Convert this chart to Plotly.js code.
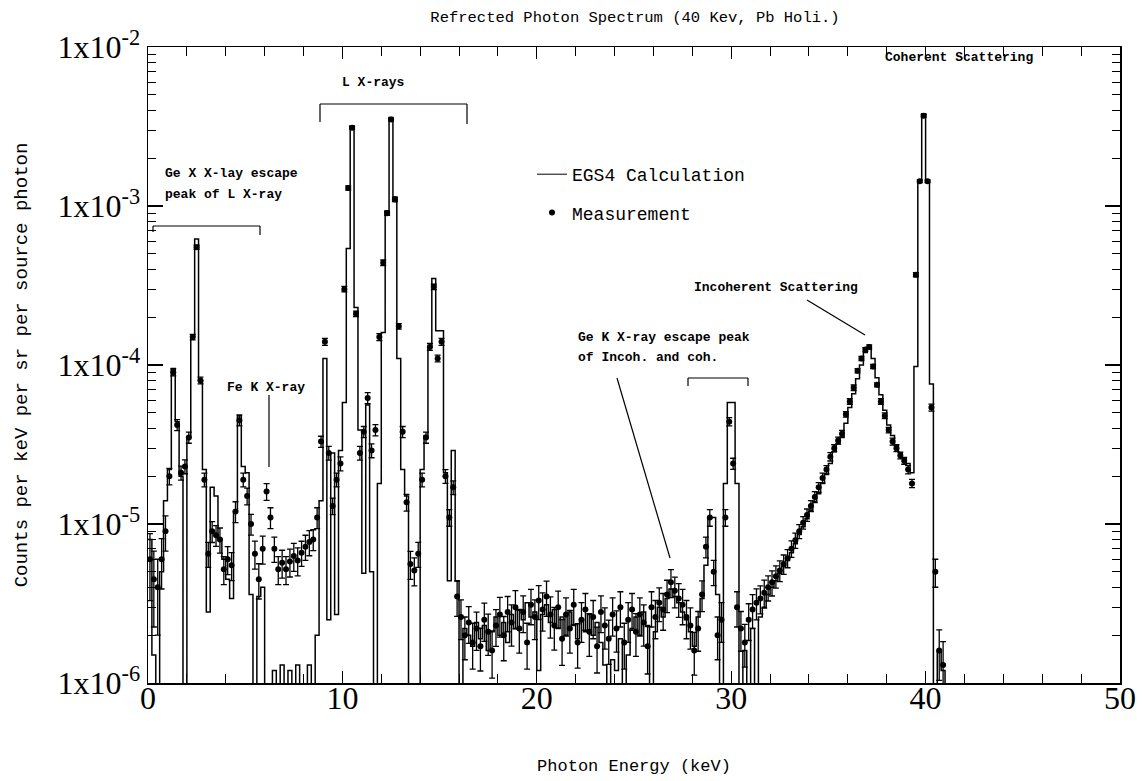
<!DOCTYPE html>
<html>
<head>
<meta charset="utf-8">
<script src="https://cdn.plot.ly/plotly-3.0.1.min.js"></script>
<style>
  html, body { margin: 0; padding: 0; background: #fff; }
  #chart { width: 1143px; height: 781px; }
</style>
</head>
<body>
<div id="chart"></div>
<script>
// ---------------- data ----------------
// EGS4 histogram: bin width 0.2 keV, first bin starts at 0 keV
const egsBinWidth = 0.2;
const egsValues = [
  8e-6, 1.5e-6, 7e-7, 5e-6, 1.4e-5,
  2.2e-5, 9.5e-5, 4.4e-5, 2.0e-5, 7e-7,
  3.5e-5, 1.5e-4, 6.2e-4, 8.0e-5, 2.2e-5,
  2.8e-6, 1.7e-5, 1.5e-5, 8e-6, 6e-6,
  4.5e-6, 3.4e-6, 1.2e-5, 4.8e-5, 2.3e-5,
  2.1e-5, 3.6e-6, 7e-7, 3.5e-6, 4.0e-6,
  7e-7, 7e-7, 1.2e-6, 7e-7, 1.3e-6,
  7e-7, 1.2e-6, 7e-7, 1.3e-6, 7e-7,
  7e-7, 1.3e-6, 7e-7, 2.0e-6, 1.4e-5,
  1.1e-4, 2.5e-6, 2.8e-5, 2.7e-6, 2.9e-5,
  5.8e-5, 5.4e-4, 3.2e-3, 2.3e-4, 3.9e-5,
  4.9e-6, 5.6e-5, 5.0e-6, 7e-7, 1.8e-5,
  1.6e-4, 9.3e-4, 3.6e-3, 1.14e-3, 1.1e-4,
  2.2e-5, 1.5e-5, 7e-7, 7e-7, 7e-7,
  2.2e-5, 3.6e-5, 1.3e-4, 3.5e-4, 1.64e-4,
  1.64e-4, 2.1e-5, 4.4e-6, 2.9e-5, 4.4e-6,
  7e-7, 2.2e-6, 2.0e-6, 1.7e-6, 2.4e-6,
  1.9e-6, 2.3e-6, 1.6e-6, 2.1e-6, 2.6e-6,
  2.0e-6, 2.4e-6, 1.8e-6, 2.7e-6, 2.2e-6,
  2.9e-6, 2.5e-6, 3.2e-6, 2.6e-6, 2.8e-6,
  1.2e-6, 2.7e-6, 3.1e-6, 2.4e-6, 2.9e-6,
  2.2e-6, 2.6e-6, 2.0e-6, 2.8e-6, 2.3e-6,
  1.9e-6, 2.5e-6, 2.1e-6, 2.7e-6, 2.0e-6,
  2.4e-6, 1.8e-6, 1.3e-6, 7e-7, 1.4e-6,
  1.2e-6, 1.9e-6, 7e-7, 1.5e-6, 2.2e-6,
  2.6e-6, 2.0e-6, 2.8e-6, 2.3e-6, 7e-7,
  2.1e-6, 3.0e-6, 2.6e-6, 3.4e-6, 3.9e-6,
  3.5e-6, 3.2e-6, 2.8e-6, 2.5e-6, 2.1e-6,
  1.7e-6, 2.6e-6, 3.4e-6, 5.5e-6, 1.1e-5,
  1.1e-5, 3.6e-6, 7e-7, 1.8e-5, 5.8e-5,
  5.8e-5, 1.8e-5, 7e-7, 1.6e-6, 7e-7,
  2.2e-6, 7e-7, 2.6e-6, 3.0e-6, 3.6e-6,
  4.0e-6, 4.4e-6, 4.9e-6, 5.4e-6, 5.9e-6,
  6.6e-6, 7.5e-6, 8.6e-6, 9.6e-6, 1.08e-5,
  1.22e-5, 1.38e-5, 1.55e-5, 1.8e-5, 2.05e-5,
  2.4e-5, 2.85e-5, 3.2e-5, 3.5e-5, 4.3e-5,
  5.4e-5, 6.6e-5, 8.2e-5, 1.0e-4, 1.2e-4,
  1.3e-4, 1.1e-4, 8.3e-5, 6.5e-5, 5.2e-5,
  4.2e-5, 3.6e-5, 3.1e-5, 2.8e-5, 2.6e-5,
  2.4e-5, 2.1e-5, 9.8e-5, 1.45e-3, 3.8e-3,
  1.45e-3, 7.6e-5, 7e-7, 1.6e-6, 1.2e-6,
  7e-7
];

// Measurement: points every 0.2 keV, first point at 0.1 keV
const measStart = 0.1;
const measStep = 0.2;
const measValues = [
  6.0e-6, 4.5e-6, 4.0e-6, 6.0e-6, 9.0e-6,
  2.0e-5, 9.0e-5, 4.2e-5, 2.1e-5, 2.3e-5,
  3.5e-5, 1.5e-4, 5.5e-4, 8.0e-5, 1.9e-5,
  6.5e-6, 9.0e-6, 8.5e-6, 8.0e-6, 5.2e-6,
  6.0e-6, 5.5e-6, 1.2e-5, 4.5e-5, 1.9e-5,
  1.5e-5, 1.0e-5, 6.5e-6, 4.5e-6, 7.0e-6,
  1.6e-5, 1.1e-5, 7.0e-6, 5.2e-6, 5.7e-6,
  5.2e-6, 5.8e-6, 6.3e-6, 5.9e-6, 6.6e-6,
  7.2e-6, 7.7e-6, 8.0e-6, 1.1e-5, 3.3e-5,
  1.4e-4, 2.8e-5, 1.3e-5, 1.9e-5, 2.4e-5,
  3.0e-4, 1.3e-3, 3.1e-3, 2.1e-4, 2.8e-5,
  3.8e-5, 6.2e-5, 2.9e-5, 3.9e-5, 1.5e-4,
  4.4e-4, 9.0e-4, 3.5e-3, 1.1e-3, 1.75e-4,
  3.8e-5, 1.37e-5, 5.6e-6, 5.1e-6, 6.5e-6,
  1.9e-5, 3.5e-5, 1.3e-4, 3.1e-4, 1.1e-4,
  1.4e-4, 2.0e-5, 1.1e-5, 1.7e-5, 3.5e-6,
  2.6e-6, 2.0e-6, 2.4e-6, 1.8e-6, 2.2e-6,
  1.7e-6, 2.5e-6, 2.1e-6, 1.6e-6, 2.3e-6,
  2.7e-6, 2.0e-6, 2.8e-6, 2.4e-6, 3.0e-6,
  2.2e-6, 2.8e-6, 1.8e-6, 3.1e-6, 2.6e-6,
  3.3e-6, 2.9e-6, 3.5e-6, 2.7e-6, 2.3e-6,
  3.0e-6, 1.9e-6, 2.7e-6, 2.2e-6, 3.1e-6,
  1.8e-6, 2.5e-6, 2.9e-6, 2.1e-6, 2.6e-6,
  1.7e-6, 2.8e-6, 2.3e-6, 1.9e-6, 2.7e-6,
  2.2e-6, 3.0e-6, 1.8e-6, 2.5e-6, 2.9e-6,
  2.1e-6, 2.7e-6, 2.4e-6, 1.7e-6, 3.0e-6,
  2.6e-6, 3.2e-6, 2.9e-6, 3.6e-6, 4.3e-6,
  3.8e-6, 3.4e-6, 3.1e-6, 2.6e-6, 2.3e-6,
  1.6e-6, 2.2e-6, 3.6e-6, 7.2e-6, 1.1e-5,
  5.0e-6, 2.0e-6, 2.5e-6, 1.1e-5, 4.4e-5,
  2.4e-5, 3.0e-6, 2.2e-6, 1.8e-6, 2.5e-6,
  2.9e-6, 3.2e-6, 3.4e-6, 3.7e-6, 4.0e-6,
  4.3e-6, 4.7e-6, 5.1e-6, 5.6e-6, 6.1e-6,
  7.0e-6, 7.9e-6, 9.0e-6, 1.02e-5, 1.14e-5,
  1.3e-5, 1.48e-5, 1.7e-5, 1.95e-5, 2.2e-5,
  2.65e-5, 3.0e-5, 3.35e-5, 3.7e-5, 4.9e-5,
  5.9e-5, 7.2e-5, 9.2e-5, 1.1e-4, 1.25e-4,
  1.3e-4, 9.8e-5, 7.5e-5, 5.9e-5, 4.8e-5,
  3.9e-5, 3.3e-5, 3.0e-5, 2.7e-5, 2.5e-5,
  2.2e-5, 1.8e-5, 3.7e-4, 1.43e-3, 3.7e-3,
  1.43e-3, 5.4e-5, 5.0e-6, 1.6e-6, 1.3e-6
];
// relative error of each measurement, in percent
const measErrPct = [
  45, 50, 50, 35, 25,
  12, 5, 8, 10, 10,
  8, 4, 3, 5, 10,
  18, 15, 15, 18, 20,
  20, 20, 15, 8, 10,
  12, 15, 20, 25, 20,
  12, 15, 18, 20, 20,
  20, 20, 20, 20, 18,
  18, 18, 15, 15, 8,
  5, 10, 12, 10, 10,
  4, 3, 2, 4, 10,
  8, 8, 10, 8, 5,
  4, 3, 2, 3, 4,
  8, 12, 20, 20, 18,
  10, 8, 5, 4, 5,
  5, 10, 12, 10, 25,
  28, 30, 26, 32, 27,
  30, 27, 29, 33, 26,
  28, 31, 25, 29, 27,
  30, 26, 32, 25, 28,
  24, 27, 25, 29, 30,
  26, 32, 27, 30, 25,
  31, 28, 26, 30, 27,
  32, 26, 29, 31, 27,
  29, 25, 32, 28, 26,
  30, 27, 29, 33, 25,
  27, 24, 26, 23, 20,
  22, 24, 25, 27, 29,
  30, 28, 22, 15, 12,
  18, 30, 28, 12, 6,
  8, 25, 28, 30, 26,
  24, 22, 20, 20, 18,
  18, 16, 15, 14, 13,
  12, 11, 10, 9, 9,
  8, 8, 7, 7, 6,
  6, 5, 5, 5, 4,
  4, 4, 3, 3, 3,
  3, 3, 3, 4, 4,
  4, 5, 5, 5, 5,
  6, 6, 3, 2, 2,
  2, 5, 20, 35, 40
];

const xTickVals = [0, 10, 20, 30, 40, 50];
const yDecades = [1e-6, 1e-5, 1e-4, 1e-3, 1e-2];
const yTickText = ['1x10<sup>-6</sup>', '1x10<sup>-5</sup>', '1x10<sup>-4</sup>', '1x10<sup>-3</sup>', '1x10<sup>-2</sup>'];

// ---------------- build traces ----------------
const egsX = egsValues.map((v, i) => +(i * egsBinWidth).toFixed(3));
const egsY = egsValues.slice();
egsX.push(+(egsValues.length * egsBinWidth).toFixed(3));
egsY.push(egsValues[egsValues.length - 1]);

const measX = measValues.map((v, i) => +(measStart + i * measStep).toFixed(3));
const measErr = measValues.map((v, i) => v * measErrPct[i] / 100);

const minorVals = [];
for (let d = -6; d < -2; d++) {
  for (let k = 2; k <= 9; k++) minorVals.push(k * Math.pow(10, d));
}

const monoFont = 'Liberation Mono, DejaVu Sans Mono, monospace';
const serifFont = 'Liberation Serif, DejaVu Serif, serif';

const traces = [
  {
    x: egsX, y: egsY, type: 'scatter', mode: 'lines',
    name: 'EGS4 Calculation', legendgroup: 'a', showlegend: false,
    line: { shape: 'hv', color: 'black', width: 1.5 }
  },
  {
    // legend entry only (plain line sample, as in the reference key)
    x: [null], y: [null], type: 'scatter', mode: 'lines',
    name: 'EGS4 Calculation', legendgroup: 'a', showlegend: true,
    line: { color: 'black', width: 1 }
  },
  {
    x: measX, y: measValues, type: 'scatter', mode: 'markers',
    name: 'Measurement', legendgroup: 'b',
    marker: { color: 'black', size: 6 },
    error_y: { type: 'data', array: measErr, visible: true, color: 'black', thickness: 1.3, width: 3 }
  }
];

// helpers for placing decorations in paper coords
const L = 148, R = 1120, T = 47, B = 683;
const px = (x) => (x - L) / (R - L);
const py = (y) => 1 - (y - T) / (B - T);
const seg = (x0, y0, x1, y1) => ({
  type: 'line', xref: 'paper', yref: 'paper',
  x0: px(x0), y0: py(y0), x1: px(x1), y1: py(y1),
  line: { color: 'black', width: 1.2 }
});
const note = (text, x, y, anchor) => ({
  text: text, xref: 'paper', yref: 'paper', x: px(x), y: py(y),
  xanchor: anchor || 'left', yanchor: 'middle', showarrow: false,
  font: { family: monoFont, size: 13, color: 'black', weight: 'bold' }
});

const layout = {
  width: 1143, height: 781,
  margin: { l: L, r: 1143 - R, t: T, b: 781 - B },
  paper_bgcolor: 'white', plot_bgcolor: 'white',
  showlegend: true,
  legend: {
    x: px(532), y: py(156), xanchor: 'left', yanchor: 'top',
    bgcolor: 'rgba(0,0,0,0)', borderwidth: 0,
    font: { family: monoFont, size: 18, color: 'black' },
    traceorder: 'grouped', tracegroupgap: 12, itemwidth: 30
  },
  title: {
    text: 'Refrected Photon Spectrum (40 Kev, Pb Holi.)',
    x: 635 / 1143, xanchor: 'center', y: 1 - 17 / 781, yanchor: 'middle',
    font: { family: monoFont, size: 15.5, color: 'black' }
  },
  xaxis: {
    range: [0, 50], tickvals: xTickVals, ticktext: xTickVals.map(String),
    ticks: 'inside', ticklen: 12, tickwidth: 1.2, tickcolor: 'black',
    minor: { dtick: 2, ticks: 'inside', ticklen: 9, tickwidth: 1, tickcolor: 'black' },
    mirror: 'ticks', showline: true, linewidth: 1.5, linecolor: 'black',
    showgrid: false, zeroline: false, ticklabelstandoff: -14,
    tickfont: { family: serifFont, size: 32, color: 'black' },
    title: { text: 'Photon Energy (keV)', font: { family: monoFont, size: 17, color: 'black' }, standoff: 44 }
  },
  yaxis: {
    type: 'log', range: [-6, -2], tickvals: yDecades, ticktext: yTickText,
    ticks: 'inside', ticklen: 15, tickwidth: 1.2, tickcolor: 'black',
    minor: { tickvals: minorVals, ticks: 'inside', ticklen: 8, tickwidth: 1, tickcolor: 'black' },
    mirror: 'ticks', showline: true, linewidth: 1.5, linecolor: 'black',
    showgrid: false, zeroline: false,
    tickfont: { family: serifFont, size: 32, color: 'black' },
    title: { text: 'Counts per keV per sr per source photon', font: { family: monoFont, size: 19, color: 'black' }, standoff: 25 }
  },
  shapes: [
    // L X-rays bracket
    seg(320, 104, 467, 104), seg(320, 104, 320, 122), seg(467, 104, 467, 124),
    // Ge escape of L X-ray bracket
    seg(153, 226, 260, 226), seg(153, 226, 153, 232), seg(260, 226, 260, 235),
    // Fe K X-ray marker
    seg(269, 395, 269, 467),
    // Ge K escape of incoh./coh. bracket and pointer
    seg(688, 378, 748, 378), seg(688, 378, 688, 386), seg(748, 378, 748, 386),
    seg(617, 378, 670, 558),
    // Incoherent pointer
    seg(807, 300, 865, 335)
  ],
  annotations: [
    note('L X-rays', 373, 82, 'center'),
    note('Ge X X-lay escape', 163, 173),
    note('peak of L X-ray', 163, 194),
    note('Fe K X-ray', 225, 387),
    note('Ge K X-ray escape peak', 576, 338),
    note('of Incoh. and coh.', 576, 358),
    note('Incoherent Scattering', 692, 287),
    note('Coherent Scattering', 883, 57)
  ]
};

Plotly.newPlot('chart', traces, layout, { displayModeBar: false, staticPlot: true });
</script>
</body>
</html>
